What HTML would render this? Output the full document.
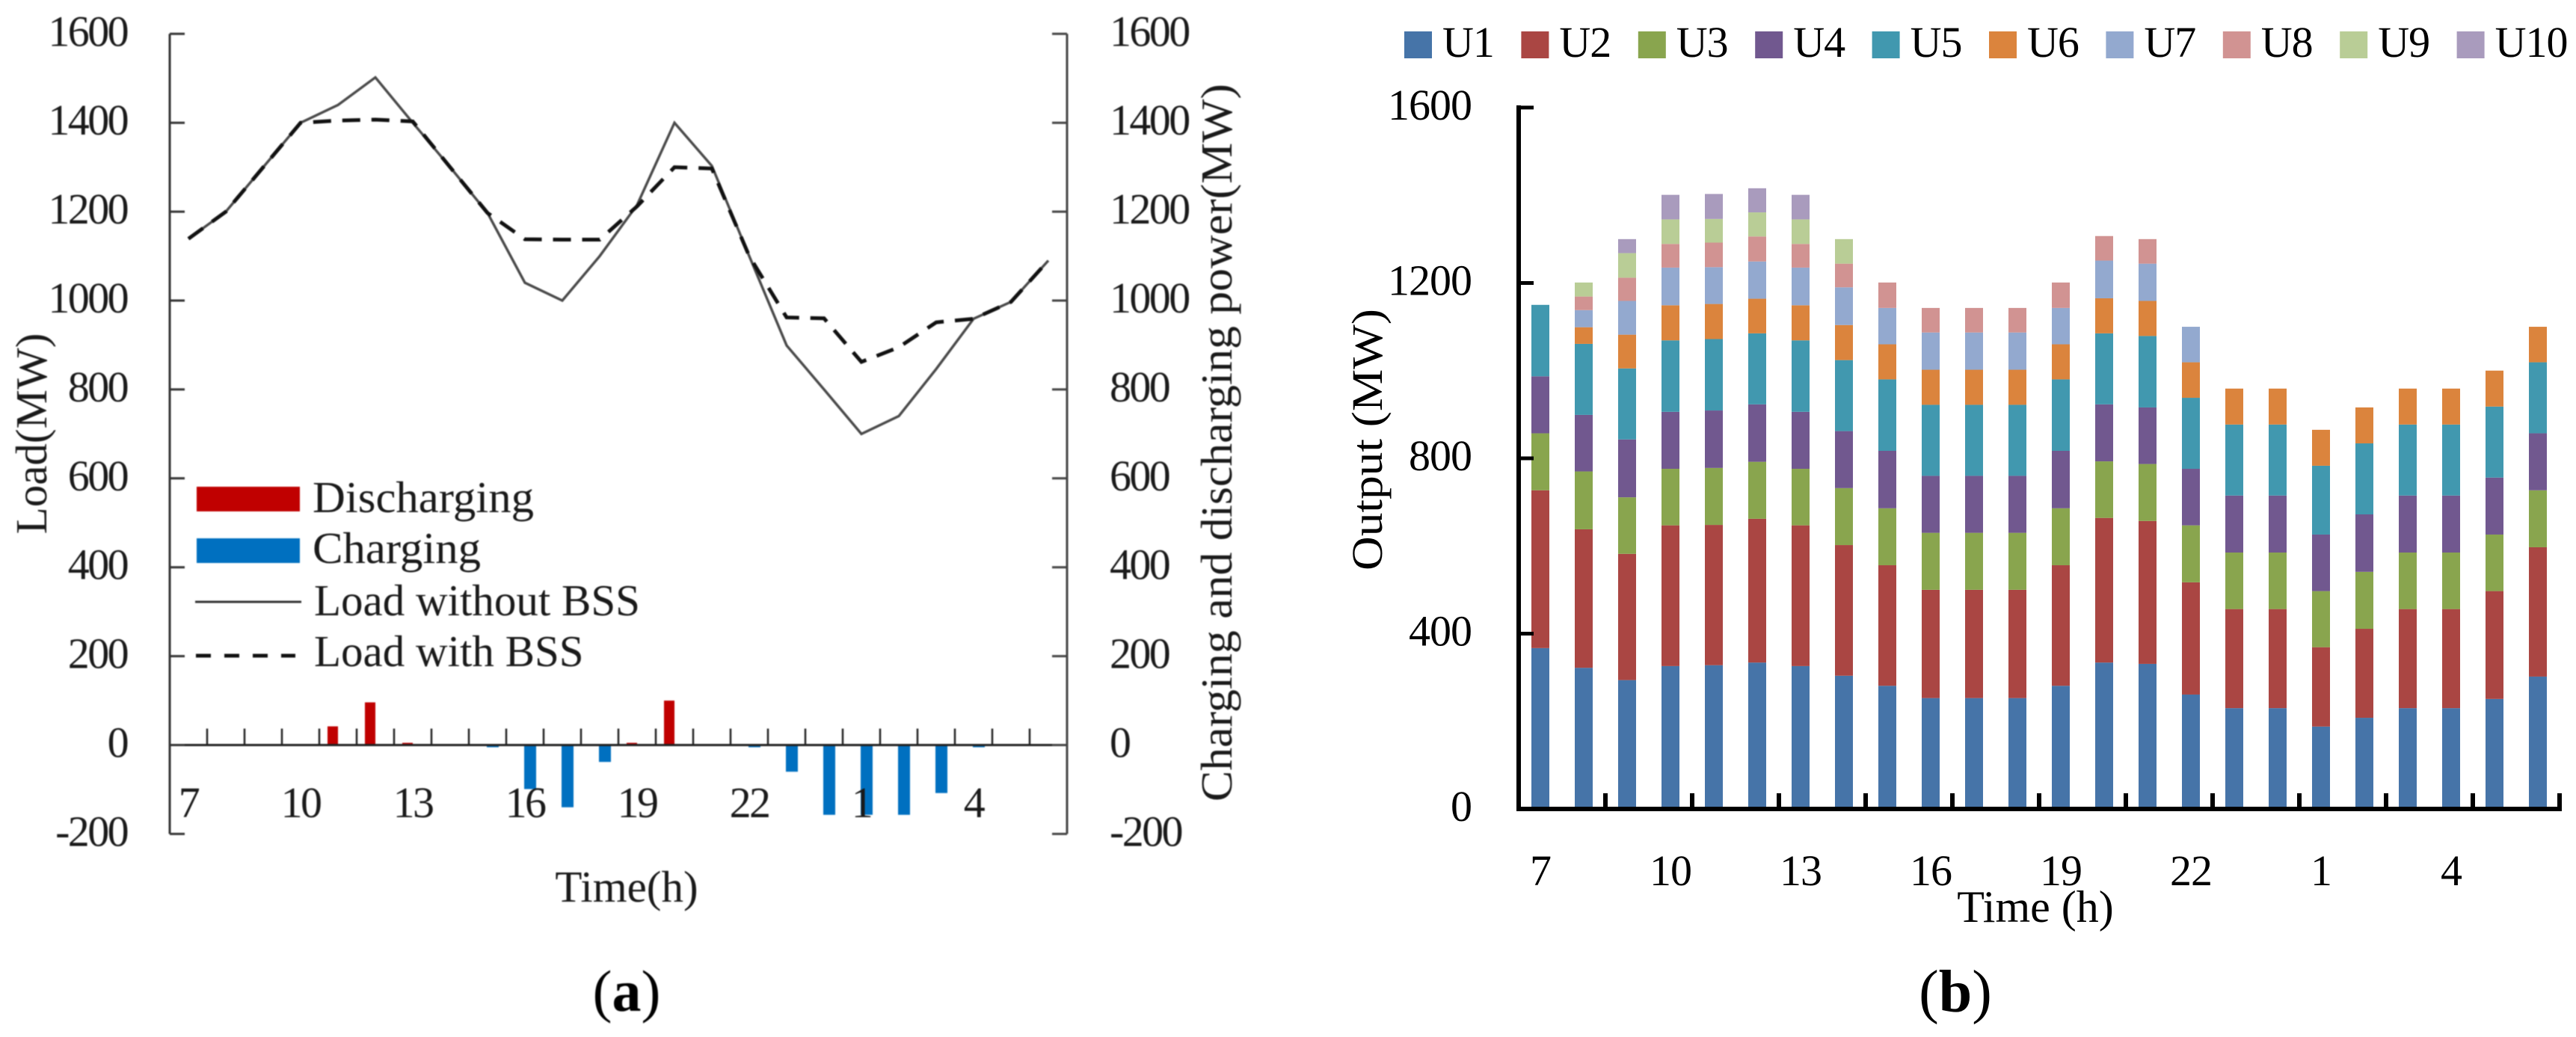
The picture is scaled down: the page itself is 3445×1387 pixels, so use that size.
<!DOCTYPE html>
<html lang="en">
<head>
<meta charset="utf-8">
<title>Load and unit output charts</title>
<style>
html,body{margin:0;padding:0;background:#fff}
svg{display:block}
text{font-family:"Liberation Serif",serif;fill:#111}
.ta{font-size:58px;letter-spacing:-2.6px;fill:#1a1a1a}
.tb{font-size:58px;letter-spacing:-1px;fill:#000}
.lg{font-size:59px;fill:#1a1a1a}
</style>
</head>
<body>
<svg id="chart" xmlns="http://www.w3.org/2000/svg" width="3445" height="1387" viewBox="0 0 3445 1387">
  <g id="panel-a" style="filter:blur(0.7px)"></g>
  <g id="panel-b"></g>
</svg>
<script>
// ---------- Panel (a) data ----------
const hoursA = [7,8,9,10,11,12,13,14,15,16,17,18,19,20,21,22,23,0,1,2,3,4,5,6];
const loadWithout = [1139,1200,1300,1400,1440,1502,1400,1300,1197,1040,1000,1100,1215,1400,1303,1100,899,800,700,740,846,959,997,1090];
const loadWith = [1139,1200,1300,1400,1405,1407,1403,1300,1197,1138,1137,1137,1212,1300,1297,1100,962,960,862,895,951,959,997,1090];
const discharging = [0,0,0,0,42,96,5,0,0,0,0,0,5,100,0,0,0,0,0,0,0,0,0,0];
const charging = [0,0,0,0,0,0,0,0,5,99,140,38,0,0,0,5,60,157,157,157,108,5,0,0];
const yTicksA = [1600,1400,1200,1000,800,600,400,200,0,-200];
const xLabelsA = ["7","","","10","","","13","","","16","","","19","","","22","","","1","","","4","",""];

// ---------- Panel (b) data ----------
const seriesNames = ["U1","U2","U3","U4","U5","U6","U7","U8","U9","U10"];
const u1 = [367,322,294,326,328,334,326,304,281,253,253,253,281,334,331,261,230,230,188,208,230,230,251,302];
const u2 = [360,316,288,321,320,328,321,298,275,247,247,247,275,330,326,256,226,226,181,203,226,226,246,295];
const u3 = [130,132,129,129,130,130,129,130,130,130,130,130,130,129,130,130,129,129,128,130,129,129,129,130];
const u4 = [130,129,132,130,131,131,130,130,131,130,130,130,131,130,129,129,130,130,129,131,130,130,130,130];
const u5 = [163,162,162,163,163,162,163,162,163,162,162,162,163,162,163,162,162,162,157,162,162,162,162,162];
const u6 = [0,38,77,80,80,79,80,80,80,80,80,80,80,80,80,81,82,82,82,82,82,82,82,81];
const u7 = [0,39,77,86,84,85,86,86,83,85,85,85,83,86,85,81,0,0,0,0,0,0,0,0];
const u8 = [0,31,53,54,56,57,54,54,58,56,56,56,58,56,56,0,0,0,0,0,0,0,0,0];
const u9 = [0,32,56,56,54,55,56,56,0,0,0,0,0,0,0,0,0,0,0,0,0,0,0,0];
const u10 = [0,0,32,56,57,55,56,0,0,0,0,0,0,0,0,0,0,0,0,0,0,0,0,0];
const yTicksB = [1600,1200,800,400,0];
const xLabelsB = ["7","","","10","","","13","","","16","","","19","","","22","","","1","","","4","",""];

const stackColors = ["#4674a8","#aa4643","#89a54e","#71588f","#4198af","#db843d","#93a9cf","#d19392","#b9cd96","#a99bbd"];
const stackSeries = [u1,u2,u3,u4,u5,u6,u7,u8,u9,u10];

const NS = 'http://www.w3.org/2000/svg';
let parent = document.getElementById('panel-a');
function mk(tag, attrs, text){
  const e = document.createElementNS(NS, tag);
  for (const k in attrs) e.setAttribute(k, attrs[k]);
  if (text !== undefined) e.textContent = text;
  parent.appendChild(e);
  return e;
}
function line(x1,y1,x2,y2,color,w){
  return mk('line',{x1:x1,y1:y1,x2:x2,y2:y2,stroke:color,'stroke-width':w});
}

// ---------- Panel (a) axis functions ----------
const ax = { left:227, right:1427, zero:996.5, k:0.5945, step:50 };
const xA = i => ax.left + ax.step*(i+0.5);
const yA = v => ax.zero - ax.k*v;

// bars
discharging.forEach((v,i)=>{
  if(!v) return;
  const r = mk('rect',{x:xA(i)-14,y:yA(v),width:14,height:yA(0)-yA(v),fill:'#c00000'});
  
  
});
charging.forEach((v,i)=>{
  if(!v) return;
  const r = mk('rect',{x:xA(i)-1,y:yA(0),width:16,height:yA(-v)-yA(0),fill:'#0070c0'});
  
  
});

// axes
let a1 = line(ax.left,yA(1600),ax.left,yA(-200),'#333',3);


let a2 = line(ax.right,yA(1600),ax.right,yA(-200),'#444',3);


let a3 = line(ax.left,yA(0),ax.right,yA(0),'#222',3);


for(let i=1;i<24;i++){
  const t = line(ax.left+ax.step*i,yA(0),ax.left+ax.step*i,yA(0)-22,'#222',2.5);
  
  
}
yTicksA.forEach(v=>{
  const t1 = line(ax.left,yA(v),ax.left+20,yA(v),'#333',3);
  
  
  const t2 = line(ax.right-20,yA(v),ax.right,yA(v),'#444',3);
  
  
  const l1 = mk('text',{x:170,y:yA(v)+16,'text-anchor':'end',class:'ta'},String(v));
  
  
  const l2 = mk('text',{x:1484,y:yA(v)+16,class:'ta'},String(v));
  
  
});
xLabelsA.forEach((s,i)=>{
  if(!s) return;
  const l = mk('text',{x:xA(i),y:1093,'text-anchor':'middle',class:'ta'},s);
  
  
});

// lines
const ptsWithout = loadWithout.map((v,i)=>xA(i)+','+yA(v)).join(' ');
const ptsWith = loadWith.map((v,i)=>xA(i)+','+yA(v)).join(' ');
const p1 = mk('polyline',{points:ptsWithout,fill:'none',stroke:'#4a4a4a','stroke-width':3.4,'stroke-linejoin':'miter'});


const p2 = mk('polyline',{points:ptsWith,fill:'none',stroke:'#111','stroke-width':5,'stroke-dasharray':'24 15'});



// legend (a)
let s;
s = mk('rect',{x:263,y:651,width:138,height:33,fill:'#c00000'});


s = mk('rect',{x:263,y:720,width:138,height:33,fill:'#0070c0'});


s = line(261,805,403,805,'#333',3);


s = mk('line',{x1:262,y1:877,x2:395,y2:877,stroke:'#111','stroke-width':5,'stroke-dasharray':'20 18'});


s = mk('text',{x:418,y:685,class:'lg',textLength:296,lengthAdjust:'spacingAndGlyphs'},'Discharging');


s = mk('text',{x:418,y:753,class:'lg',textLength:225,lengthAdjust:'spacingAndGlyphs'},'Charging');


s = mk('text',{x:420,y:823,class:'lg'},'Load without BSS');


s = mk('text',{x:420,y:891,class:'lg'},'Load with BSS');



// titles (a)
s = mk('text',{transform:'translate(62,580) rotate(-90)','text-anchor':'middle',class:'lg'},'Load(MW)');


s = mk('text',{transform:'translate(1647,592) rotate(-90)','text-anchor':'middle',class:'lg',textLength:960,lengthAdjust:'spacingAndGlyphs'},'Charging and discharging power(MW)');


s = mk('text',{x:838,y:1206,'text-anchor':'middle',class:'lg'},'Time(h)');


s = mk('text',{x:838,y:1352,'text-anchor':'middle','font-size':78,style:'fill:#000'});


s.innerHTML = '(<tspan font-weight="bold">a</tspan>)';

// ---------- Panel (b) axis functions ----------
parent = document.getElementById('panel-b');
const bx = { left:2031, right:3423, zero:1082, k:0.5863, step:58 };
const xB = i => bx.left + bx.step*(i+0.5);
const yB = v => bx.zero - bx.k*v;

hoursA.forEach((h,i)=>{
  let acc = 0;
  stackSeries.forEach((arr,j)=>{
    const v = arr[i];
    if(!v) return;
    const r = mk('rect',{x:xB(i)-12,y:yB(acc+v),width:24,height:yB(acc)-yB(acc+v),fill:stackColors[j]});
    
    
    acc += v;
  });
});

s = line(bx.left,yB(1600)-3,bx.left,yB(0)+3,'#000',6);


s = line(bx.left-3,yB(0),bx.right+3,yB(0),'#000',6);


for(let i=2;i<=24;i+=2){
  const t = line(bx.left+bx.step*i,yB(0),bx.left+bx.step*i,yB(0)-21,'#000',6);
  
  
}
yTicksB.forEach(v=>{
  const t = line(bx.left,yB(v),bx.left+20,yB(v),'#000',5);
  
  
  const l = mk('text',{x:1968,y:yB(v)+16,'text-anchor':'end',class:'tb'},String(v));
  
  
});
xLabelsB.forEach((t,i)=>{
  if(!t) return;
  const l = mk('text',{x:xB(i),y:1184,'text-anchor':'middle',class:'tb'},t);
  
  
});

// legend (b)
seriesNames.forEach((n,j)=>{
  const sx = 1878 + j*156.4;
  const r = mk('rect',{x:sx,y:42,width:37,height:36,fill:stackColors[j]});
  
  
  const l = mk('text',{x:sx+51,y:76,class:'tb'},n);
  
  
});

// titles (b)
s = mk('text',{transform:'translate(1848,588) rotate(-90)','text-anchor':'middle',class:'tb',textLength:350,lengthAdjust:'spacingAndGlyphs',style:'letter-spacing:0'},'Output (MW)');


s = mk('text',{x:2722,y:1233,'text-anchor':'middle',class:'tb',style:'font-size:60px;letter-spacing:0'},'Time (h)');


s = mk('text',{x:2615,y:1353,'text-anchor':'middle','font-size':80,style:'fill:#000'});


s.innerHTML = '(<tspan font-weight="bold">b</tspan>)';
</script>
</body>
</html>
